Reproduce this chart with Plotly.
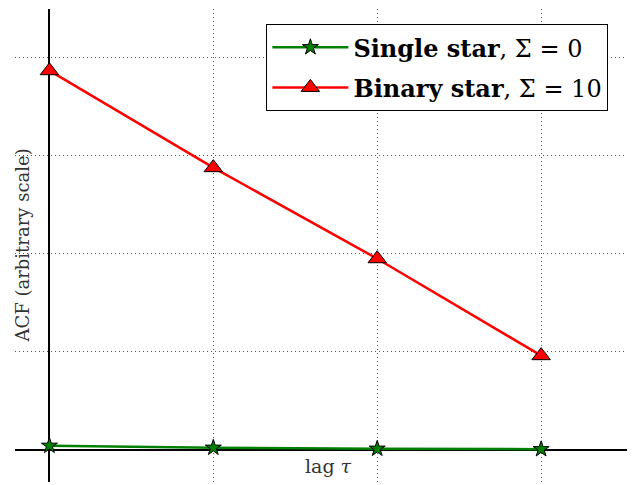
import plotly.graph_objects as go

lags = [0, 1, 2, 3]
single_star = [0.04, 0.02, 0.01, 0.005]
binary_star = [3.87, 2.88, 1.95, 0.96]
series_names = ["<b>Single star</b>, Σ = 0", "<b>Binary star</b>, Σ = 10"]

font_family = "DejaVu Serif"

fig = go.Figure()
fig.add_trace(go.Scatter(
    x=lags, y=single_star, mode="lines+markers", name=series_names[0],
    legendgroup="a",
    line=dict(color="green", width=2.5),
    marker=dict(symbol="star", size=12, color="green", line=dict(color="black", width=1)),
))
fig.add_trace(go.Scatter(
    x=lags, y=binary_star, mode="lines+markers", name=series_names[1],
    legendgroup="b",
    line=dict(color="red", width=2.5),
    marker=dict(symbol="triangle-up", size=16, color="red", line=dict(color="black", width=1)),
))

grid = dict(showticklabels=False, ticks="", showgrid=True, gridcolor="#555",
            griddash="1px,3px", gridwidth=1, dtick=1, tick0=0,
            zeroline=True, zerolinecolor="black", zerolinewidth=2, showline=False)

fig.update_layout(
    width=635, height=485,
    margin=dict(l=7, r=15, t=1, b=11),
    paper_bgcolor="white", plot_bgcolor="white",
    font=dict(family=font_family, color="black", size=16),
    showlegend=True,
    legend=dict(
        x=0.968, y=0.968, xanchor="right", yanchor="top",
        bordercolor="black", borderwidth=1, bgcolor="white",
        font=dict(size=24, family=font_family),
        itemwidth=76, tracegroupgap=6,
    ),
    xaxis=dict(range=[-0.21, 3.53], **grid),
    yaxis=dict(range=[-0.33, 4.5], **grid),
    annotations=[
        dict(text="lag <i>τ</i>", xref="x", yref="y", x=1.7, y=0,
             xanchor="center", yanchor="top", yshift=-3, showarrow=False,
             font=dict(size=19, family=font_family, color="#333")),
        dict(text="ACF (arbitrary scale)", xref="paper", yref="paper", x=0, y=0.5,
             xshift=7, textangle=-90, xanchor="center", yanchor="middle", showarrow=False,
             font=dict(size=18, family=font_family, color="#333")),
    ],
)

fig.write_html("out.html")
